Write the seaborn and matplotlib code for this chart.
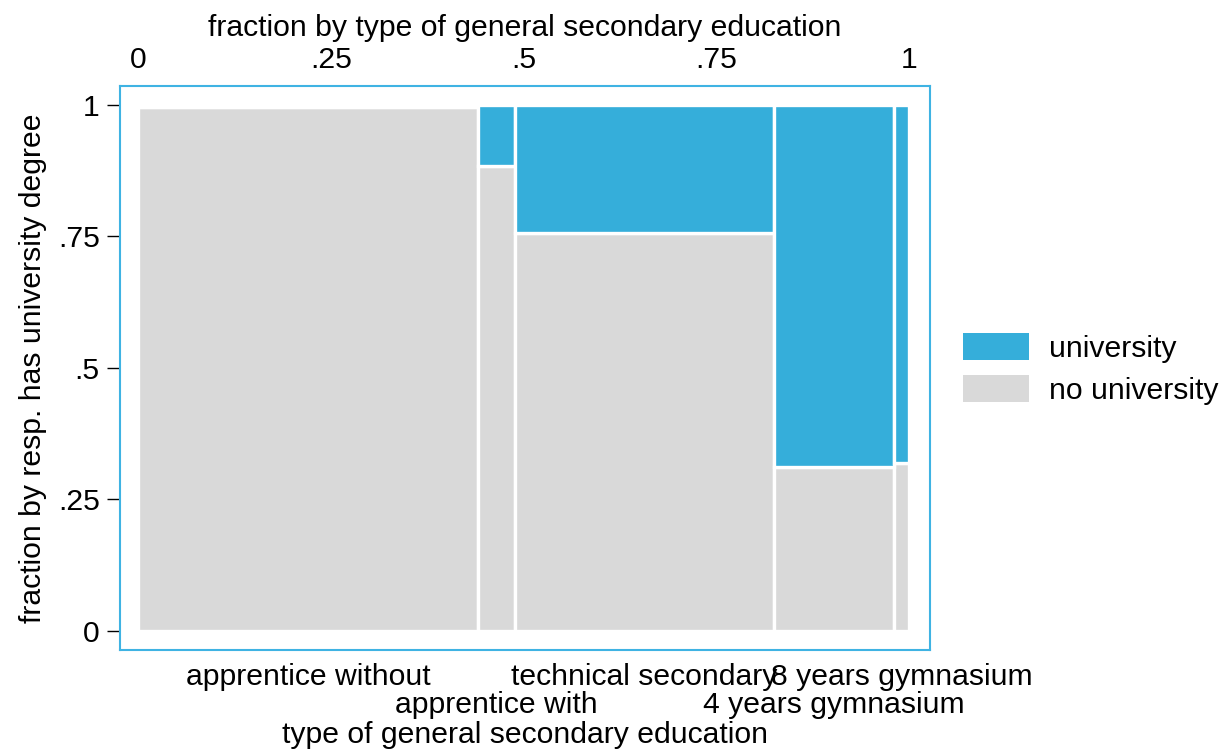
import numpy as np
import pandas as pd
import matplotlib
matplotlib.use("Agg")
import matplotlib.pyplot as plt
import seaborn as sns
from matplotlib.patches import Patch

# Secondary education types and their share of respondents (bar widths)
categories = ["apprentice without", "apprentice with", "technical secondary",
              "4 years gymnasium", "8 years gymnasium"]
share = [0.4414, 0.0476, 0.3362, 0.1554, 0.0194]
# Fraction within each type holding a university degree
univ_frac = [0.004, 0.116, 0.244, 0.688, 0.681]

# seaborn stacks the first hue level on top
status_levels = ["university", "no university"]
palette = {"university": "#35AEDA", "no university": "#D9D9D9"}

frac_ticks = [0, 0.25, 0.5, 0.75, 1]
frac_labels = ["0", ".25", ".5", ".75", "1"]

sns.set_style("white")
plt.rcParams["font.family"] = ["Liberation Sans", "DejaVu Sans"]
plt.rcParams["text.color"] = "black"
plt.rcParams["axes.labelcolor"] = "black"
plt.rcParams["xtick.color"] = "black"
plt.rcParams["ytick.color"] = "black"
FS = 21.7
FRAME = "#3FB3E3"

edges = [0.0] + list(np.cumsum(share))
centers = [(a + b) / 2 for a, b in zip(edges[:-1], edges[1:])]

rows = []
for cat, c, w, f in zip(categories, centers, share, univ_frac):
    rows.append({"pos": c, "status": "no university", "weight": w * (1 - f)})
    rows.append({"pos": c, "status": "university", "weight": w * f})
df = pd.DataFrame(rows)

fig = plt.figure(figsize=(12.22, 7.52), dpi=100)
ax = fig.add_axes([0.0982, 0.1356, 0.6628, 0.75])

sns.histplot(data=df, x="pos", weights="weight", hue="status",
             hue_order=status_levels, bins=edges, multiple="fill",
             palette=palette, edgecolor="white", linewidth=2.4, alpha=1,
             legend=False, ax=ax)

ax.set_xlim(-0.0233, 1.0272)
ax.set_ylim(-0.0361, 1.0351)

# top axis: fraction by education type
ax.xaxis.tick_top()
ax.xaxis.set_label_position("top")
ax.set_xticks(frac_ticks, labels=frac_labels)
ax.tick_params(axis="x", length=0, pad=8.5, labelsize=FS, labelcolor="black")
ax.set_xlabel("fraction by type of general secondary education", fontsize=FS, labelpad=7.5)

# left axis: fraction with university degree
ax.set_yticks(frac_ticks, labels=frac_labels)
ax.tick_params(axis="y", left=True, length=9.5, width=1, color="black",
               pad=5, labelsize=FS, labelcolor="black")
ax.set_ylabel("fraction by resp. has university degree", fontsize=FS, labelpad=8)

for sp in ax.spines.values():
    sp.set_visible(True)
    sp.set_color(FRAME)
    sp.set_linewidth(1.5)

# bottom axis: category names, alternating rows
sec = ax.secondary_xaxis("bottom")
cat_labels = [c if i % 2 == 0 else "\n" + c for i, c in enumerate(categories)]
sec.set_xticks(centers, labels=cat_labels)
sec.tick_params(axis="x", length=0, pad=9.5, labelsize=FS, labelcolor="black")
for lbl in sec.get_xticklabels():
    lbl.set_linespacing(1.0)
sec.spines["bottom"].set_visible(False)
sec.set_xlabel("type of general secondary education", fontsize=FS, labelpad=1.5)

handles = [Patch(facecolor=palette["university"], edgecolor="none", label="university"),
           Patch(facecolor=palette["no university"], edgecolor="none", label="no university")]
fig.legend(handles=handles, loc="upper left", bbox_to_anchor=(0.788, 0.557),
           frameon=False, fontsize=FS, handlelength=2.2, handleheight=1.0,
           handletextpad=0.65, labelspacing=0.4, borderpad=0, borderaxespad=0)

fig.savefig("out.png", dpi=100, facecolor="white")
